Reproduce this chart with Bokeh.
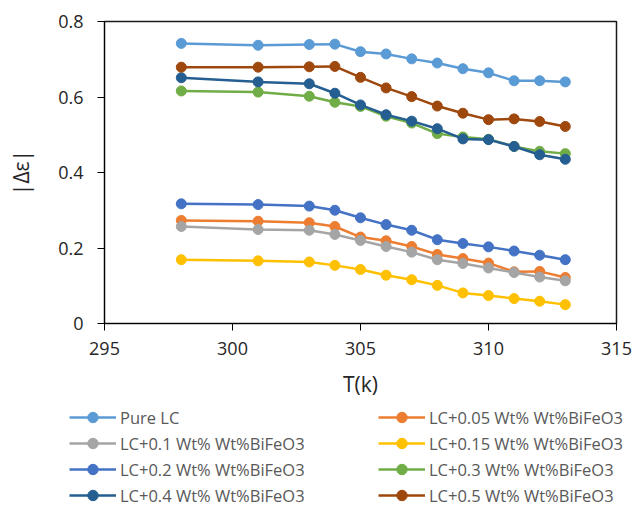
from bokeh.plotting import figure
from bokeh.models import Range1d, FixedTicker, CustomJSTickFormatter, Legend, LegendItem
from bokeh.embed import file_html
from bokeh.resources import INLINE

T = [298, 301, 303, 304, 305, 306, 307, 308, 309, 310, 311, 312, 313]

pure_lc = [0.742, 0.737, 0.739, 0.740, 0.720, 0.714, 0.701, 0.690, 0.675, 0.664, 0.643, 0.643, 0.640]
lc_005 = [0.273, 0.271, 0.267, 0.257, 0.229, 0.219, 0.204, 0.183, 0.172, 0.160, 0.137, 0.138, 0.122]
lc_010 = [0.257, 0.249, 0.247, 0.236, 0.220, 0.204, 0.189, 0.169, 0.159, 0.147, 0.135, 0.123, 0.113]
lc_015 = [0.169, 0.166, 0.163, 0.154, 0.143, 0.128, 0.116, 0.101, 0.081, 0.074, 0.066, 0.059, 0.050]
lc_020 = [0.317, 0.315, 0.311, 0.300, 0.280, 0.262, 0.247, 0.222, 0.212, 0.203, 0.192, 0.181, 0.169]
lc_030 = [0.616, 0.613, 0.602, 0.586, 0.575, 0.549, 0.531, 0.503, 0.494, 0.488, 0.469, 0.456, 0.450]
lc_040 = [0.651, 0.640, 0.635, 0.610, 0.579, 0.553, 0.536, 0.516, 0.489, 0.487, 0.469, 0.447, 0.435]
lc_050 = [0.679, 0.679, 0.680, 0.681, 0.652, 0.624, 0.601, 0.576, 0.557, 0.540, 0.542, 0.535, 0.522]

names = ["Pure LC", "LC+0.05 Wt% Wt%BiFeO3", "LC+0.1 Wt% Wt%BiFeO3", "LC+0.15 Wt% Wt%BiFeO3",
         "LC+0.2 Wt% Wt%BiFeO3", "LC+0.3 Wt% Wt%BiFeO3", "LC+0.4 Wt% Wt%BiFeO3", "LC+0.5 Wt% Wt%BiFeO3"]
series = [pure_lc, lc_005, lc_010, lc_015, lc_020, lc_030, lc_040, lc_050]
colors = ["#5B9BD5", "#ED7D31", "#A5A5A5", "#FFC000", "#4472C4", "#70AD47", "#255E91", "#9E480E"]

y_ticks = [0, 0.2, 0.4, 0.6, 0.8]
x_ticks = [295, 300, 305, 310, 315]

FONT = "Open Sans"

p = figure(width=632, height=404, output_backend="svg", toolbar_location=None,
           x_range=Range1d(295, 315), y_range=Range1d(0, 0.8),
           min_border_left=104, min_border_right=16, min_border_top=21, min_border_bottom=81)
p.background_fill_color = "white"
p.border_fill_color = "white"
p.xgrid.visible = False
p.ygrid.visible = False
p.outline_line_color = "#1a1a1a"
p.outline_line_width = 1.5

for ax in (p.xaxis[0], p.yaxis[0]):
    ax.axis_line_color = "black"
    ax.axis_line_width = 1
    ax.major_tick_line_color = "black"
    ax.major_tick_out = 7
    ax.major_tick_in = 0
    ax.minor_tick_line_color = None
    ax.major_label_text_font = FONT
    ax.major_label_text_font_size = "18px"
    ax.major_label_text_color = "#262626"
    ax.axis_label_text_font = FONT
    ax.axis_label_text_font_size = "21px"
    ax.axis_label_text_font_style = "normal"
    ax.axis_label_text_color = "#262626"

p.xaxis.ticker = FixedTicker(ticks=x_ticks)
p.yaxis.ticker = FixedTicker(ticks=y_ticks)
p.yaxis.formatter = CustomJSTickFormatter(code="return String(Math.round(tick*10)/10);")
p.xaxis.axis_label = "T(k)"
p.yaxis.axis_label = "|Δε|"
p.xaxis.major_label_standoff = 11
p.xaxis.axis_label_standoff = 12
p.yaxis.major_label_standoff = 14
p.yaxis.axis_label_standoff = 20

for name, ys, c in zip(names, series, colors):
    p.line(T, ys, line_color=c, line_width=2.5)
    p.scatter(T, ys, size=10, fill_color=c, line_color=c)

# Legend panel: a separate figure whose frame is the whole strip below the chart
lg = figure(width=632, height=101, output_backend="svg", toolbar_location=None,
            x_range=Range1d(0, 1), y_range=Range1d(0, 1),
            min_border_left=0, min_border_right=0, min_border_top=0, min_border_bottom=0)
lg.axis.visible = False
lg.grid.visible = False
lg.outline_line_color = None
lg.background_fill_color = "white"
lg.border_fill_color = "white"

items = {}
for name, c in zip(names, colors):
    r1 = lg.line([float("nan")], [float("nan")], line_color=c, line_width=2.5)
    r2 = lg.scatter([float("nan")], [float("nan")], size=10, fill_color=c, line_color=c)
    items[name] = LegendItem(label=name, renderers=[r1, r2])

order = [0, 2, 4, 6, 1, 3, 5, 7]
legend = Legend(items=[items[names[i]] for i in order], ncols=2,
                location=(69, -3), orientation="vertical",
                glyph_width=47, glyph_height=26, label_height=26, label_width=258,
                label_standoff=4, spacing=0, padding=0, margin=0,
                border_line_color=None, background_fill_alpha=0,
                label_text_font=FONT, label_text_font_size="16.5px", label_text_color="#595959")
lg.add_layout(legend, "center")

open("out.html", "w").write(file_html([p, lg], INLINE))
